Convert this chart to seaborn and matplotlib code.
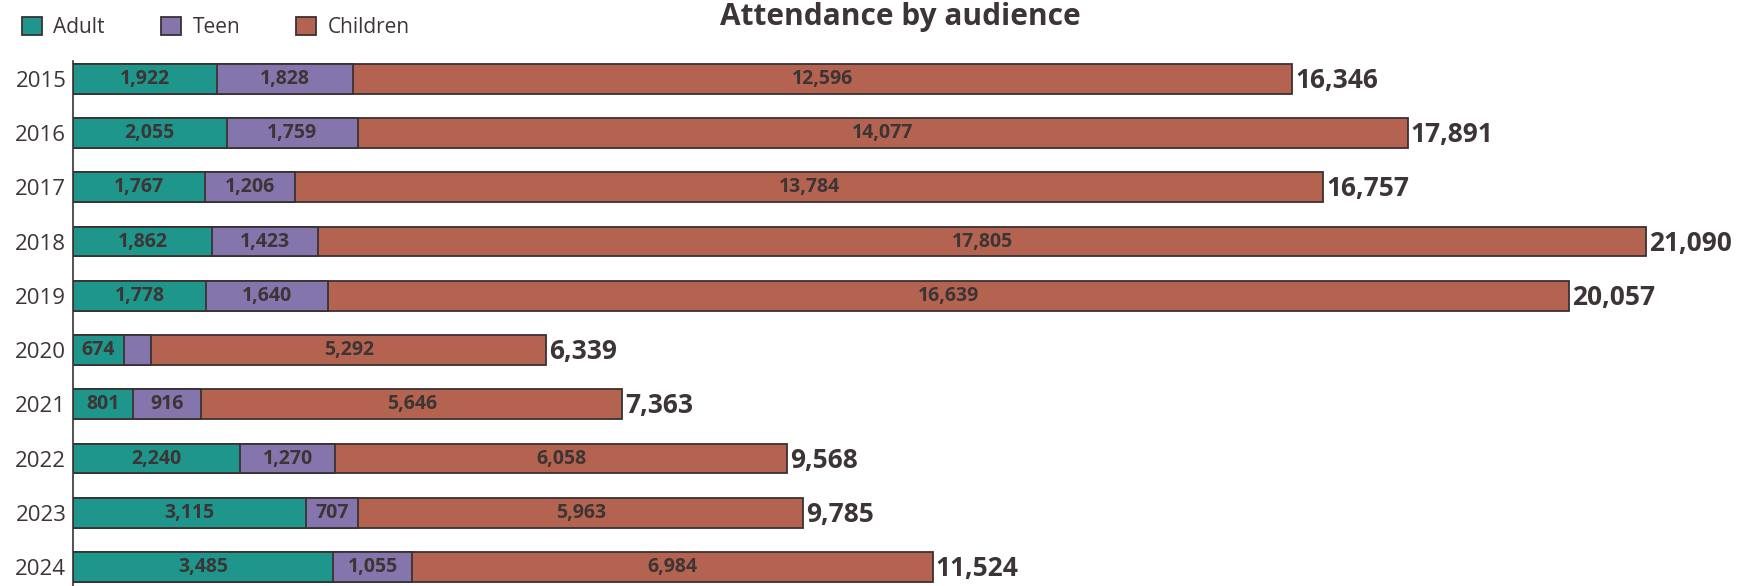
import matplotlib
matplotlib.use("Agg")
import matplotlib.pyplot as plt
import seaborn as sns
import pandas as pd
from matplotlib.patches import Patch

years = ["2015", "2016", "2017", "2018", "2019", "2020", "2021", "2022", "2023", "2024"]
adult = [1922, 2055, 1767, 1862, 1778, 674, 801, 2240, 3115, 3485]
teen = [1828, 1759, 1206, 1423, 1640, 373, 916, 1270, 707, 1055]
children = [12596, 14077, 13784, 17805, 16639, 5292, 5646, 6058, 5963, 6984]

series = ["Adult", "Teen", "Children"]
colors = {"Adult": "#1f968b", "Teen": "#8475ad", "Children": "#b56351"}
edge = "#3a3232"
text_c = "#3d3535"

df = pd.DataFrame({"year": years, "Adult": adult, "Teen": teen, "Children": children})
df["at"] = df["Adult"] + df["Teen"]
df["total"] = df["at"] + df["Children"]

sns.set_style("white")
plt.rcParams["font.family"] = ["Open Sans", "DejaVu Sans"]

fig = plt.figure(figsize=(17.44, 5.86), dpi=100)
ax = fig.add_axes([0.042, 0.0, 0.958, 0.896])

# stacked bars drawn back to front
for col, name in [("total", "Children"), ("at", "Teen"), ("Adult", "Adult")]:
    sns.barplot(data=df, y="year", x=col, orient="h", color=colors[name],
                saturation=1, width=0.55, edgecolor=edge, linewidth=1.3, ax=ax)

for i, row in df.iterrows():
    left = 0
    for name in series:
        v = row[name]
        if v >= 500:
            ax.text(left + v / 2, i, f"{v:,}", ha="center", va="center",
                    fontsize=14, fontweight="bold", color=text_c)
        left += v
    ax.text(row["total"] + 40, i + 0.03, f"{row['total']:,}", ha="left", va="center",
            fontsize=19, fontweight="bold", color=text_c)

ax.set_xlim(0, 22400)
ax.set_ylim(9.35, -0.33)
ax.set_xlabel("")
ax.set_ylabel("")
ax.set_xticks([])
ax.tick_params(axis="y", labelsize=16, colors=text_c, length=0, pad=5)
for s in ["top", "right", "bottom"]:
    ax.spines[s].set_visible(False)
ax.spines["left"].set_color(edge)
ax.spines["left"].set_linewidth(1.2)

handles = [Patch(facecolor=colors[n], edgecolor=edge, linewidth=1.3) for n in series]
fig.legend(handles, series, loc="upper left", bbox_to_anchor=(0.002, 1.003), ncol=3,
           frameon=False, fontsize=15, handlelength=0.95, handleheight=0.95,
           handletextpad=0.55, columnspacing=2.7, labelcolor=text_c)

fig.text(0.516, 0.971, "Attendance by audience", ha="center", va="center",
         fontsize=21.5, fontweight="bold", color=text_c)

fig.savefig("out.png", dpi=100)
